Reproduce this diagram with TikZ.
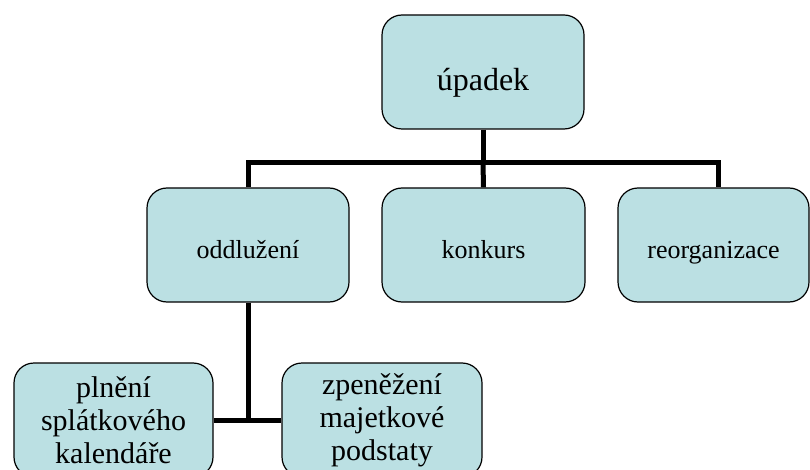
\documentclass[tikz,border=0pt]{standalone}
\usepackage{fontspec}
\setmainfont{Liberation Serif}
\usetikzlibrary{backgrounds}
\definecolor{boxfill}{RGB}{187,224,227}
\tikzset{
  box/.style={draw=black, line width=1.2pt, fill=boxfill, rounded corners=20pt,
    inner sep=0pt, align=center, minimum height=114pt},
  conn/.style={line width=5pt, black}
}
\begin{document}
\begin{tikzpicture}[x=1pt, y=-1pt]
  \useasboundingbox (0,0) rectangle (810,470);
  \clip (0,0) rectangle (810,470);

  % root
  \node[box, minimum width=202pt, font=\fontsize{32}{36}\selectfont,
        text height=38pt, text depth=0pt] (top) at (483,72) {úpadek};

  % second level
  \node[box, minimum width=202pt, font=\fontsize{26}{30}\selectfont,
        text height=26pt, text depth=0pt] (odd) at (248,245) {oddlužení};
  \node[box, minimum width=203pt, font=\fontsize{26}{30}\selectfont,
        text height=26pt, text depth=0pt] (kon) at (483.5,245) {konkurs};
  \node[box, minimum width=191pt, font=\fontsize{26}{30}\selectfont,
        text height=26pt, text depth=0pt] (reo) at (713.5,245) {reorganizace};

  % third level
  \node[box, minimum width=199pt, font=\fontsize{30}{33}\selectfont]
        (pln) at (113.5,420) {plnění\\splátkového\\kalendáře};
  \node[box, minimum width=200pt, font=\fontsize{30}{33}\selectfont]
        (zpe) at (382,420) {zpeněžení\\majetkové\\podstaty};

  % connectors
  \begin{scope}[on background layer]
    \coordinate (bar) at (483,163);
    \coordinate (knee) at (248,420);
    \coordinate (reotop) at ([xshift=4.5pt]reo.north);
    \draw[conn] (top.south) -- (bar);
    \draw[conn] (odd.north) |- (bar) -| (reotop);
    \draw[conn] (bar) -- (kon.north);
    \draw[conn] (odd.south) -- (knee);
    \draw[conn] (pln.east) -- (zpe.west);
  \end{scope}
\end{tikzpicture}
\end{document}
